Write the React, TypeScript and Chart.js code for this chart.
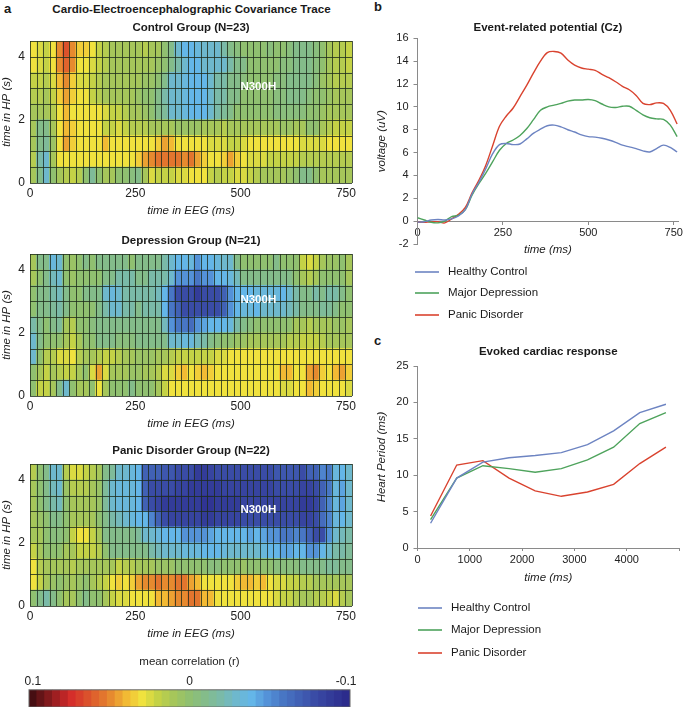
import React, { useEffect, useRef } from "react";
import { Chart, registerables } from "chart.js";

Chart.register(...registerables);
Chart.defaults.font.family = '"Liberation Sans", Arial, sans-serif';
Chart.defaults.color = "#222";

// r x 100, rows listed top (4-4.5 s) to bottom (0-0.5 s), 49 EEG bins
const controlGroup: number[][] = [
  [3,2.5,2,3,5,6.5,5,3.5,3.5,3, 2,1.5,1,1,1,1,1,1.5,1,1, 0,-1,-3,-4,-4,-3.5,-3,-3,-3,-2, -1,-.5,0,0,0,0,-.5,0,0,-.5, -1,-1,-1,-.5,0,1,1.5,1.5,2],
  [3,2.5,2,3,5,6,5,3,3,2.5, 2,1.5,1,1,1,1,1,1,1,.5, 0,-1,-2,-3,-4,-4,-3,-3,-3,-3, -2,-1,-1,0,0,0,0,0,-.5,-.5, -1,-1,-1,-.5,0,1,1.5,1.5,2],
  [2,2,1.5,2.5,4,5,3.5,2.5,2.5,2, 1.5,1,1,1,1,1,1,.5,.5,0, -1,-3,-3,-3.5,-4,-4,-4,-3,-2,-2, -1,-1,-.5,0,0,0,0,-.5,-.5,-1, -1,-1,-1,-.5,.5,1,1.5,1.5,1.5],
  [1.5,1.5,1,2,3.5,4.5,3.5,3,3,2, 1.5,1,1,1,1,1,.5,0,0,-1, -2,-3,-3,-3.5,-4,-4,-4,-3,-2,-2, -1,-1,0,0,0,0,0,-.5,-.5,-1, -1,-1,-.5,0,0,.5,1,1,1],
  [1,1,1,1.5,3,4,3,3,3,3, 3,2.5,2,2,1.5,1,1,.5,0,-1, -1.5,-3,-3,-3.5,-4,-4,-4,-3,-2,-1.5, -1,0,0,0,0,0,0,-.5,-.5,-.5, -.5,-.5,0,0,.5,1,1,1,1],
  [1,-1,-1,1,3,4,3.5,3,3,3, 3,2,2,2.5,2,1.5,1.5,1.5,1,1, 1,1,.5,.5,.5,.5,1,1,1,1.5, 1,1,1,1,1,1,1,1,.5,.5, 1,1,0,0,1,1.5,2,2,2],
  [1,-1,-1.5,.5,3,4.5,3.5,3,3,3, 3,4,3,3,3,3,3,3,3,3.5, 4.5,4,3,3,3,3,3,2.5,2.5,2.5, 2,2,2.5,3,3,3,3,3,3,3, 3,2.5,2.5,2.5,2.5,3,3,3,3],
  [1.5,-2,-3,1,3,3,3,3,3,3, 3,3,3,3,3,3,3.5,4.5,5,5.5, 5.5,5.5,5.5,5,5.5,4.5,3.5,3,3,3.5, 4.5,3.5,3,2.5,2.5,2.5,2,2,2,2, 2,1.5,1.5,1.5,1.5,1.5,1.5,1.5,1.5],
  [1,-1,-3,0,1,1.5,2,1.5,0,-1.5, 0,1,1,0,0,-.5,-1,1,2.5,2, 2,2,2.5,2.5,3,3,3,2,1.5,2, 2,2.5,2.5,2,1.5,1,1,1,1,.5, 0,-1,-1,0,1,1,1,1,1],
];

const depressionGroup: number[][] = [
  [1,-1,-1,-3.5,-3,0,.5,0,-1,0, -1,-1,-1,-1,-1,0,-1,-1,-1,-1, -2,-3,-4,-4,-3.5,-5,-4,-4,-3.5,-3, -3,-1,0,0,0,0,0,-1,0,0, 0,2,2.5,2,1,.5,.5,0,1],
  [1,0,-1,-2.5,-3,0,.5,0,0,0, 0,-1,-1,-2,-2,-2,-1,-1,-2,-2, -2,-3,-5,-5,-5,-6,-5,-5,-4,-4, -3.5,-2.5,-1,-1,-1,-1,-1,-1,-1,-1, 0,1,1.5,1,0,0,0,0,1],
  [0,-1,-1,-2,-2.5,-1,0,0,-1,-1, -1,-3,-3.5,-3,-2,-2,-2,-2,-2,-2.5, -4,-6,-8,-8,-8,-9,-8,-8,-8,-7, -5,-4,-4,-4,-3.5,-3.5,-3.5,-3.5,-4,-3, -2,-1,-1,-2,-1,-2,-2,-1,0],
  [0,-1,-1,-1.5,-2,-1,0,0,0,0, -1,-2,-3,-3,-2,-2,-1,-2,-2,-2, -4,-6,-7,-8,-8,-8,-8,-8,-8,-7, -5,-4,-3.5,-3.5,-4,-3,-3,-3,-3,-2.5, -2,-1,-1,-1,-1.5,-1.5,-1,0,0],
  [-2,-1,0,-1,-1.5,1,1.5,0,0,-.5, -1,-1,-1,-1,-1,-1,-1,-1,-1,-1, -2.5,-5,-6,-6,-6.5,-5,-4.5,-4,-4,-4, -3.5,-2,-1,-.5,0,0,0,0,0,0, 1,1,1.5,1,1,1,.5,.5,1],
  [-3,-1,0,0,0,1,2,1,0,0, -1,-1,-1,-.5,-.5,-.5,-1,-1,-1,-1, -1,-3,-3,-3.5,-3.5,-2.5,-2,-1,-.5,0, 0,.5,.5,1,1,1,1,1,1,1.5, 1.5,2,2,2,1.5,1,1,1,1],
  [-3,0,1.5,1.5,2.5,2.5,3,1.5,1,1, 1.5,2,2,1.5,1,1,.5,.5,.5,1, 1,1.5,2,2,2,2,2,2,2.5,2.5, 3,3,3,3,3,3,3,3,3,3, 3,3,3,3,3,3,3,3,3],
  [0,1,2,1,1.5,2,2,1,0,2.5, 4.5,2.5,1,1,1,.5,.5,1,1,1.5, 2.5,2.5,3.5,4,3,3.5,4,3.5,3,3, 3,3,3,3,3,3,3,3,4,4, 3,3,4.5,5,3.5,3,4,4.5,3.5],
  [0,2,2,1,-1,-3,0,1,1,0, 3,1,0,0,0,-1,0,0,0,1, 2,3,3,3,3,3,3,3,3,3, 3,3,3,3,3,3,3,3,2.5,2.5, 3,3,4,3.5,3,3,3,3,2.5],
];

const panicGroup: number[][] = [
  [1.5,0,-1,-3,-3,1.5,2.5,2.5,2,1.5, 1,-1,-1.5,-3,-3,-3.5,-4,-7,-7,-7, -7.5,-7.5,-8,-8,-8,-9,-9,-8.5,-8,-8, -8,-8,-8,-8,-8,-8,-8,-7.5,-7.5,-7.5, -7.5,-8,-7,-7,-5.5,-6,-3.5,-4,-3],
  [1,0,-1,-2.5,-3,.5,1.5,1.5,1.5,1, .5,-1.5,-3,-3.5,-3.5,-3.5,-4,-7,-8,-8, -8,-8,-8.5,-8.5,-9,-9,-9,-9,-9,-8.5, -8.5,-8.5,-8.5,-8.5,-8.5,-8.5,-8.5,-8,-8,-8, -8,-8.5,-8.5,-8,-7,-6,-3.5,-4.5,-3],
  [1,0,-1,-2,-2.5,0,1,1,1,1, .5,-1.5,-3,-3.5,-3.5,-3.5,-4,-7,-8,-8.5, -9,-9,-9,-9,-9,-9,-9.5,-9.5,-9,-9, -9,-9,-8.5,-8.5,-8.5,-8.5,-8.5,-8.5,-8.5,-8.5, -8.5,-9,-9,-8.5,-7,-5.5,-3.5,-4.5,-3],
  [1,.5,0,-1,-1,0,1,1,1,1, 0,-1,-2,-2.5,-3,-3.5,-4,-4,-5.5,-7, -8,-8.5,-8.5,-8.5,-8.5,-8.5,-9,-9,-8.5,-8.5, -8.5,-8.5,-8,-8,-8,-8,-8,-8,-8,-8, -8,-8.5,-8.5,-8,-6.5,-5.5,-3.5,-4,-3],
  [1,1,0,-.5,-.5,0,2,3,3,2, 1,-1,-1,-1,-1,-1,-1.5,-3,-3,-3.5, -4,-4,-4,-5,-5,-5,-5,-4.5,-4,-4, -4,-4,-4,-4.5,-4,-4.5,-5,-5,-6,-6, -5.5,-6,-7,-8,-8,-5,-3,-2.5,-2],
  [2,1,0,0,0,1,1,2,2,2, 1.5,0,-1,-1,-1,-1,-1,-1,-2,-2.5, -3,-3,-3,-3.5,-3.5,-3.5,-4,-4,-4,-3.5, -3,-3,-3,-3,-3,-3.5,-4,-4,-4.5,-4.5, -4,-4,-5,-5,-4,-3,-2,-2,-1.5],
  [3,1.5,1,1,1,1,1.5,1,1,1, 1,1,1,2,1.5,1.5,1,1,1,.5, .5,.5,0,0,0,0,0,-.5,-.5,0, 0,0,.5,0,0,0,0,-.5,-.5,-.5, -.5,-1,-1,-1,-1,-1.5,-1.5,-1,-1],
  [3,2,1,.5,0,.5,1,.5,0,1, 1.5,2,3,3.5,3,3.5,4.5,5,5,5.5, 5,5,5.5,5.5,4.5,4,3,3,3,3, 3,3.5,4,4,3.5,4,3,2.5,2.5,2, 2,1.5,1.5,1,1,1,1,1,1],
  [0,-1,-2,-1,0,1,1,0,-1,0, 0,1,2,2.5,2.5,3,3,3,3,4, 4,4.5,5,5,5.5,5.5,4,4,3,3, 3,3,3,3,3,3,3,2.5,2,2, 1.5,1,1,1.5,1.5,2,2.5,1.5,1],
];

const colorbarLevels = [
  10,9.5,9,8.5,8,7.5,7,6.5,6,5.5,5,4.5,4,3.5,3,2.5,2,1.5,1,.5,0,
  -.5,-1,-1.5,-2,-2.5,-3,-3.5,-4,-4.5,-5,-5.5,-6,-6.5,-7,-7.5,-8,-8.5,-9,-9.5,-10,
];

const eegTicks = [0, 250, 500, 750];
const hpTicks = [0, 2, 4];

const erpTime = [0,20,40,60,80,100,120,140,160,180,200,220,240,260,280,300,320,340,360,380,400,420,440,460,480,500,520,540,560,580,600,620,640,660,680,700,720,740,760];
const erpHealthy = [-.1,-.05,.1,.15,.1,.2,.45,1,2.4,3.4,4.6,5.9,6.7,6.8,6.7,6.75,7.2,7.7,8.05,8.35,8.4,8.25,8,7.8,7.55,7.4,7.35,7.25,7.1,6.9,6.65,6.5,6.35,6.15,6.05,6.35,6.65,6.45,6.05];
const erpDepression = [.3,.1,-.1,-.15,0,.4,.5,1,2.3,3.3,4.2,5.2,6.2,6.8,7.1,7.5,8.1,8.9,9.7,10,10.15,10.3,10.5,10.6,10.6,10.65,10.55,10.25,10,9.95,10.05,10.05,9.7,9.3,9.05,8.95,8.9,8.4,7.4];
const erpPanic = [-.1,-.1,-.05,-.05,-.15,.2,.6,1.2,2.5,3.6,4.9,6.6,8.3,9.2,9.9,10.9,11.9,13,14,14.75,14.85,14.7,14.1,13.65,13.4,13.3,13.2,12.85,12.55,12.2,11.8,11.5,11,10.3,10.2,10.35,10.3,9.7,8.5];

const hrTime = [250,750,1250,1750,2250,2750,3250,3750,4250,4750];
const hrHealthy = [3.4,9.6,11.8,12.4,12.7,13.1,14.2,16.1,18.6,19.75];
const hrDepression = [3.9,9.6,11.3,10.9,10.4,10.9,12.1,13.85,17.1,18.6];
const hrPanic = [4.4,11.4,12,9.6,7.85,7.1,7.7,8.75,11.6,13.85];

const legendNames = ["Healthy Control", "Major Depression", "Panic Disorder"];
const lineColors = ["#6d84c2", "#4ea35c", "#d9432f"];

const colorStops: [number, number[]][] = [
  [10, [70, 14, 18]], [7.6, [212, 42, 42]], [5.2, [228, 128, 46]], [4, [242, 186, 52]],
  [3, [240, 226, 62]], [2, [196, 210, 70]], [1, [166, 198, 90]], [0, [144, 192, 112]],
  [-1, [132, 188, 138]], [-2, [122, 186, 168]], [-3, [110, 184, 205]], [-4, [100, 182, 232]],
  [-5, [84, 146, 216]], [-6, [72, 118, 196]], [-8, [58, 76, 166]], [-10, [44, 44, 140]],
];

function cellColor(r: number): string {
  for (let i = 1; i < colorStops.length; i++) {
    const [hi, a] = colorStops[i - 1];
    const [lo, b] = colorStops[i];
    if (r >= lo) {
      const k = (hi - r) / (hi - lo);
      const c = a.map((v, j) => Math.round(v + (b[j] - v) * k));
      return `rgb(${c[0]},${c[1]},${c[2]})`;
    }
  }
  return "rgb(44,44,140)";
}

const BIN_MS = 15.6;
const BIN_COUNT = 49;
const ROW_S = 0.5;
const ROW_COUNT = 9;
const axisFont = { size: 11.5, style: "italic" as const };
const tickFont = { size: 11 };
const heatTickFont = { size: 12 };
const titleFont = { size: 11.5, weight: "bold" as const };
const AXIS_GRAY = "#8a8a8a";
const CELL_LINE = "rgba(30,44,28,0.8)";

function heatmapConfig(rows: number[][], title: string, titlePad: any): any {
  const datasets = [...rows].reverse().map((row) => ({
    data: row.map((r, i) => ({ x: (i + 0.5) * BIN_MS, y: ROW_S, r })),
    backgroundColor: (c: any) => cellColor(c.raw ? c.raw.r : 0),
    borderWidth: 0,
    inflateAmount: 0.5,
    barPercentage: 1,
    categoryPercentage: 1,
    stack: "cells",
  }));
  return {
    type: "bar",
    data: { datasets },
    options: {
      animation: false,
      responsive: false,
      events: [],
      layout: { padding: { right: 29 } },
      plugins: {
        legend: { display: false },
        tooltip: { enabled: false },
        title: { display: true, text: title, font: titleFont, color: "#1a1a1a", padding: titlePad, fullSize: false },
      },
      scales: {
        x: {
          type: "linear", stacked: true, offset: false, min: 0, max: BIN_COUNT * BIN_MS,
          afterBuildTicks: (s: any) => { s.ticks = eegTicks.map((value) => ({ value })); },
          afterFit: (s: any) => { s.height = 35; },
          grid: { display: false, drawTicks: false, offset: false },
          border: { display: false },
          ticks: { font: heatTickFont, padding: 3, maxRotation: 0, autoSkip: false },
          title: { display: true, text: "time in EEG (ms)", font: axisFont, padding: { top: 0, bottom: 0 } },
        },
        y: {
          stacked: true, min: 0, max: ROW_COUNT * ROW_S,
          afterBuildTicks: (s: any) => { s.ticks = hpTicks.map((value) => ({ value })); },
          afterFit: (s: any) => { s.width = 30; },
          grid: { display: false, drawTicks: false },
          border: { display: false },
          ticks: { font: heatTickFont, padding: 5 },
          title: { display: true, text: "time in HP (s)", font: axisFont, padding: { top: 0, bottom: 0 } },
        },
      },
    },
    plugins: [
      {
        id: "cellGrid",
        afterDatasetsDraw(chart: any) {
          const { ctx, chartArea: a, scales } = chart;
          ctx.save();
          ctx.strokeStyle = CELL_LINE;
          ctx.lineWidth = 1;
          ctx.beginPath();
          for (let i = 0; i <= BIN_COUNT; i++) {
            const x = Math.round(scales.x.getPixelForValue(i * BIN_MS)) + 0.5;
            ctx.moveTo(x, a.top);
            ctx.lineTo(x, a.bottom);
          }
          for (let j = 0; j <= ROW_COUNT; j++) {
            const y = Math.round(scales.y.getPixelForValue(j * ROW_S)) + 0.5;
            ctx.moveTo(a.left, y);
            ctx.lineTo(a.right, y);
          }
          ctx.stroke();
          ctx.fillStyle = "#fff";
          ctx.font = 'bold 11.5px "Liberation Sans", Arial, sans-serif';
          ctx.textAlign = "center";
          ctx.textBaseline = "middle";
          ctx.fillText("N300H", scales.x.getPixelForValue(542), scales.y.getPixelForValue(3.05));
          ctx.restore();
        },
      },
    ],
  };
}

function lineConfig(opts: any): any {
  const names = legendNames;
  return {
    type: "line",
    data: {
      labels: opts.time,
      datasets: opts.series.map((s: number[], i: number) => ({
        label: names[i],
        data: s.map((y, k) => ({ x: opts.time[k], y })),
        borderColor: lineColors[i],
        borderWidth: 1.4,
        pointRadius: 0,
        tension: opts.tension,
      })),
    },
    options: {
      animation: false,
      responsive: false,
      events: [],
      layout: { padding: opts.padding },
      plugins: {
        legend: { display: false },
        tooltip: { enabled: false },
        title: { display: true, text: opts.title, font: titleFont, color: "#1a1a1a", padding: opts.titlePad, fullSize: false },
      },
      scales: {
        x: {
          type: "linear",
          min: opts.xMin, max: opts.xMax,
          position: opts.xPosition,
          afterBuildTicks: (s: any) => { s.ticks = opts.xTicks.map((value: number) => ({ value })); },
          afterFit: (s: any) => { s.height = opts.xHeight; },
          grid: { drawOnChartArea: false, tickLength: 3, color: AXIS_GRAY },
          border: { color: AXIS_GRAY, width: 1 },
          ticks: {
            font: tickFont, padding: 2, maxRotation: 0, autoSkip: false, color: "#222",
            callback: (v: number) => (opts.xLabels.includes(v) ? String(v) : ""),
          },
          title: { display: true, text: "time (ms)", font: axisFont, padding: opts.xTitlePad },
        },
        y: {
          min: opts.yMin, max: opts.yMax,
          afterFit: (s: any) => { s.width = 52.5; },
          grid: { drawOnChartArea: false, tickLength: 4, color: AXIS_GRAY },
          border: { color: AXIS_GRAY, width: 1 },
          ticks: { font: tickFont, padding: 5, stepSize: opts.yStep, color: "#222" },
          title: { display: true, text: opts.yTitle, font: axisFont, padding: { top: 10, bottom: 0 } },
        },
      },
    },
  };
}

function colorbarConfig(): any {
  return {
    type: "bar",
    data: {
      datasets: [
        {
          data: colorbarLevels.map((x) => ({ x, y: 1 })),
          backgroundColor: colorbarLevels.map(cellColor),
          inflateAmount: 0.4,
          barPercentage: 1,
          categoryPercentage: 1,
        },
      ],
    },
    options: {
      animation: false,
      responsive: false,
      events: [],
      layout: { padding: { right: 31 } },
      plugins: {
        legend: { display: false },
        tooltip: { enabled: false },
        title: { display: true, text: "mean correlation (r)", font: { size: 11.5, weight: "normal" }, color: "#222", padding: { top: 7, bottom: 3 }, fullSize: false },
      },
      scales: {
        x: {
          type: "linear", position: "top", reverse: true, offset: false, min: -10.25, max: 10.25,
          afterBuildTicks: (s: any) => { s.ticks = [10, 0, -10].map((value) => ({ value })); },
          afterFit: (s: any) => { s.height = 18; },
          grid: { display: false, drawTicks: false, offset: false },
          border: { display: false },
          ticks: { font: heatTickFont, padding: 1, maxRotation: 0, autoSkip: false, callback: (v: number) => String(v / 100) },
        },
        y: {
          display: true, min: 0, max: 1,
          afterFit: (s: any) => { s.width = 29; },
          grid: { display: false, drawTicks: false },
          border: { display: false },
          ticks: { display: false },
        },
      },
    },
    plugins: [
      {
        id: "barFrame",
        afterDatasetsDraw(chart: any) {
          const { ctx, chartArea: a } = chart;
          ctx.save();
          ctx.strokeStyle = "#666";
          ctx.strokeRect(a.left, a.top, a.right - a.left, a.bottom - a.top);
          ctx.restore();
        },
      },
    ],
  };
}

function Box({ left, top, width, height, make }: any) {
  const ref = useRef<HTMLCanvasElement>(null);
  useEffect(() => {
    const chart = new Chart(ref.current as HTMLCanvasElement, make());
    return () => chart.destroy();
  }, []);
  return (
    <canvas
      ref={ref}
      width={width}
      height={height}
      style={{ position: "absolute", left, top, width, height, display: "block" }}
    />
  );
}

const sans = '"Liberation Sans", Arial, sans-serif';

function Label({ x, y, text, size = 11, bold = false, center = false }: any) {
  return (
    <div
      style={{
        position: "absolute", left: x, top: y, fontFamily: sans, fontSize: size,
        fontWeight: bold ? 700 : 400, color: "#1a1a1a", lineHeight: 1, whiteSpace: "nowrap",
        transform: center ? "translate(-50%, -50%)" : "translateY(-50%)",
      }}
    >
      {text}
    </div>
  );
}

function LineLegend({ x0, x1, xt, ys }: any) {
  return (
    <>
      {legendNames.map((name, i) => (
        <React.Fragment key={name}>
          <div style={{ position: "absolute", left: x0, top: ys[i] - 1, width: x1 - x0, height: 2, background: lineColors[i], opacity: 0.8 }} />
          <Label x={xt} y={ys[i]} text={name} size={11.5} />
        </React.Fragment>
      ))}
    </>
  );
}

export default function App() {
  return (
    <div style={{ position: "absolute", left: 0, top: 0, width: 685, height: 708, background: "#fff", overflow: "hidden" }}>
      <Label x={4} y={8} text="a" size={13} bold />
      <Label x={374} y={6} text="b" size={13} bold />
      <Label x={374} y={340} text="c" size={13} bold />
      <Label x={191.5} y={9} text="Cardio-Electroencephalographic Covariance Trace" size={11.6} bold center />

      <Box left={0} top={18} width={381} height={200} make={() => heatmapConfig(controlGroup, "Control Group (N=23)", { top: 3, bottom: 6.2 })} />
      <Box left={0} top={231} width={381} height={200} make={() => heatmapConfig(depressionGroup, "Depression Group (N=21)", { top: 2.5, bottom: 6.7 })} />
      <Box left={0} top={441} width={381} height={200} make={() => heatmapConfig(panicGroup, "Panic Disorder Group (N=22)", { top: 2.5, bottom: 6.7 })} />
      <Box left={0} top={648} width={381} height={59} make={colorbarConfig} />

      <Box
        left={365} top={12} width={320} height={268}
        make={() =>
          lineConfig({
            time: erpTime, series: [erpHealthy, erpDepression, erpPanic], tension: 0.35,
            title: "Event-related potential (Cz)", titlePad: { top: 9.4, bottom: 3.1 }, padding: { right: 5, bottom: 36 },
            xMin: 0, xMax: 764, xPosition: { y: 0 }, xTicks: [0, 250, 500, 750], xLabels: [0, 250, 500, 750],
            xHeight: 36, xTitlePad: { top: 0, bottom: 0 }, yMin: -2, yMax: 16, yStep: 2, yTitle: "voltage (uV)",
          })
        }
      />
      <Box
        left={365} top={340} width={320} height={248}
        make={() =>
          lineConfig({
            time: hrTime, series: [hrHealthy, hrDepression, hrPanic], tension: 0,
            title: "Evoked cardiac response", titlePad: { top: 5.4, bottom: 6.8 }, padding: { right: 6 },
            xMin: 0, xMax: 5000, xPosition: "bottom", xTicks: [0, 1000, 2000, 3000, 4000, 5000], xLabels: [0, 1000, 2000, 3000, 4000],
            xHeight: 40, xTitlePad: { top: 0, bottom: 3.4 }, yMin: 0, yMax: 25, yStep: 5, yTitle: "Heart Period (ms)",
          })
        }
      />
      <LineLegend x0={415} x1={439} xt={448} ys={[272, 293, 315]} />
      <LineLegend x0={418} x1={442} xt={451} ys={[608, 630, 653]} />
    </div>
  );
}
